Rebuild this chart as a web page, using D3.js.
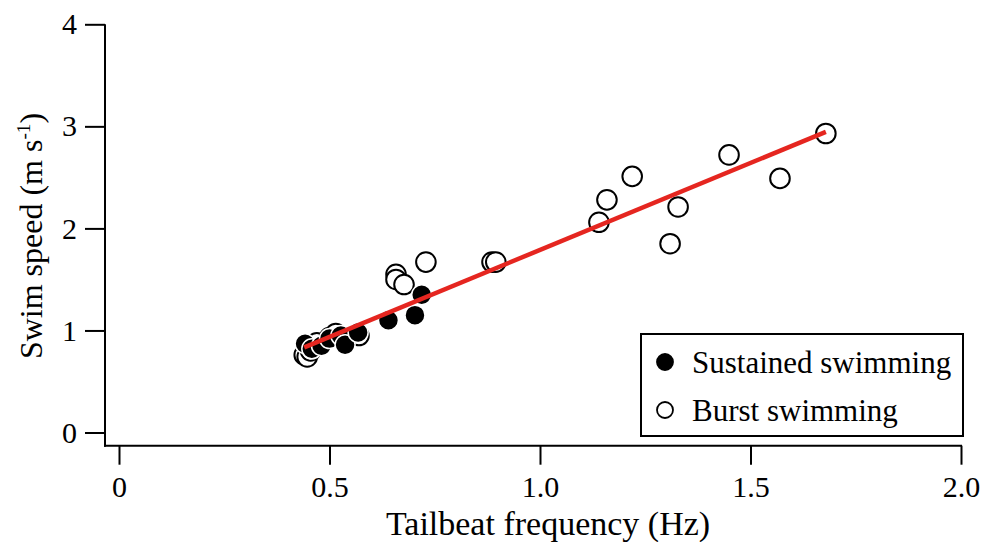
<!DOCTYPE html>
<html>
<head>
<meta charset="utf-8">
<script src="https://cdn.jsdelivr.net/npm/d3@7"></script>
<style>
  html, body { margin: 0; padding: 0; background: #fff; }
  #d3Container { width: 984px; height: 542px; }
  text { font-family: "Liberation Serif", "Times New Roman", serif; }
</style>
</head>
<body>
<div id="d3Container"></div>
<script>
// tailbeat frequency (Hz), swim speed (m s-1)
const sustainedFreq = [0.442, 0.458, 0.481, 0.500, 0.527, 0.537, 0.568, 0.640, 0.703, 0.719]
const sustainedSpeed = [0.87, 0.82, 0.85, 0.92, 0.95, 0.86, 0.98, 1.10, 1.15, 1.35]

const burstFreq = [0.440, 0.447, 0.455, 0.470, 0.500, 0.515, 0.570, 0.658, 0.658, 0.677, 0.729, 0.886, 0.895,
  1.140, 1.159, 1.219, 1.309, 1.328, 1.449, 1.570, 1.679]
const burstSpeed = [0.76, 0.74, 0.80, 0.88, 0.93, 0.97, 0.95, 1.55, 1.50, 1.45, 1.67, 1.67, 1.67,
  2.06, 2.28, 2.51, 1.85, 2.21, 2.72, 2.49, 2.93]

const fitSlope = 1.704
const fitIntercept = 0.085

const xTicks = [0, 0.5, 1.0, 1.5, 2.0]
const xTickLabels = ['0', '0.5', '1.0', '1.5', '2.0']
const yTicks = [0, 1, 2, 3, 4]
const yTickLabels = ['0', '1', '2', '3', '4']
const legendLabels = ['Sustained swimming', 'Burst swimming']

const width = 984
const height = 542
const TICK_FONT = 30
const TITLE_FONT = 34
const Y_TITLE_FONT = 32
const LEGEND_FONT = 31
const RED = '#e52620'

const xScale = d3.scaleLinear().domain([0, 2]).range([119, 961])
const yScale = d3.scaleLinear().domain([0, 4]).range([432.5, 24.3])
const axisX = 105
const axisY = 445.7

const svg = d3.select('#d3Container')
  .append('svg')
  .attr('width', width)
  .attr('height', height)

// axis lines
svg.append('line')
  .attr('x1', axisX).attr('x2', axisX).attr('y1', yScale(4)).attr('y2', axisY + 1)
  .attr('stroke', '#000').attr('stroke-width', 2)
svg.append('line')
  .attr('x1', axisX - 1).attr('x2', xScale(2) + 1).attr('y1', axisY).attr('y2', axisY)
  .attr('stroke', '#000').attr('stroke-width', 2)

const yAxis = d3.axisLeft(yScale).tickValues(yTicks).tickSize(20).tickSizeOuter(0).tickPadding(8)
  .tickFormat((d, i) => yTickLabels[i])
svg.append('g')
  .attr('transform', `translate(${axisX}, 0)`)
  .call(yAxis)
  .call(g => {
    g.select('.domain').remove()
    g.selectAll('.tick line').attr('stroke', '#000').attr('stroke-width', 2)
    g.selectAll('.tick text')
      .attr('font-size', TICK_FONT).attr('fill', '#000')
      .attr('font-family', '"Liberation Serif", serif')
  })

const xAxis = d3.axisBottom(xScale).tickValues(xTicks).tickSize(19).tickSizeOuter(0)
  .tickFormat((d, i) => xTickLabels[i])
svg.append('g')
  .attr('transform', `translate(0, ${axisY})`)
  .call(xAxis)
  .call(g => {
    g.select('.domain').remove()
    g.selectAll('.tick line').attr('stroke', '#000').attr('stroke-width', 2)
    g.selectAll('.tick text')
      .attr('y', 51).attr('dy', 0)
      .attr('font-size', TICK_FONT).attr('fill', '#000')
      .attr('font-family', '"Liberation Serif", serif')
  })

// axis titles
svg.append('text')
  .attr('x', 548).attr('y', 535)
  .attr('text-anchor', 'middle').attr('font-size', TITLE_FONT)
  .text('Tailbeat frequency (Hz)')

svg.append('text')
  .attr('transform', 'translate(42, 236) rotate(-90)')
  .attr('text-anchor', 'middle').attr('font-size', Y_TITLE_FONT)
  .call(t => {
    t.append('tspan').text('Swim speed (m s')
    t.append('tspan').attr('font-size', Y_TITLE_FONT * 0.6).attr('dy', -Y_TITLE_FONT * 0.38).text('-1')
    t.append('tspan').attr('dy', Y_TITLE_FONT * 0.38).text(')')
  })

// points: burst drawn first, sustained on top
const burst = burstFreq.map((f, i) => ({f, s: burstSpeed[i]}))
const sustained = sustainedFreq.map((f, i) => ({f, s: sustainedSpeed[i]}))

svg.selectAll('circle.burst')
  .data(burst)
  .enter()
  .append('circle')
  .classed('burst', true)
  .attr('cx', d => xScale(d.f)).attr('cy', d => yScale(d.s)).attr('r', 9.8)
  .attr('fill', '#fff').attr('stroke', '#000').attr('stroke-width', 2)

svg.selectAll('circle.sustained')
  .data(sustained)
  .enter()
  .append('circle')
  .classed('sustained', true)
  .attr('cx', d => xScale(d.f)).attr('cy', d => yScale(d.s)).attr('r', 10)
  .attr('fill', '#000').attr('stroke', '#fff').attr('stroke-width', 1.5)

// regression line over the data range
const allFreq = sustainedFreq.concat(burstFreq)
const fitRange = d3.extent(allFreq)
svg.append('path')
  .datum(fitRange.map(f => ({f, s: fitIntercept + fitSlope * f})))
  .attr('d', d3.line().x(d => xScale(d.f)).y(d => yScale(d.s)))
  .attr('stroke', RED).attr('stroke-width', 4.5).attr('fill', 'none')

// legend
const legend = svg.append('g').attr('transform', 'translate(641, 334)')
legend.append('rect')
  .attr('width', 322).attr('height', 102)
  .attr('fill', '#fff').attr('stroke', '#000').attr('stroke-width', 2)

legend.selectAll('g.legend_item')
  .data(legendLabels)
  .enter()
  .append('g')
  .classed('legend_item', true)
  .attr('transform', (d, i) => `translate(0, ${32 + i * 48})`)
  .call(sel => {
    sel.append('circle')
      .attr('cx', 24).attr('cy', -4).attr('r', 8)
      .attr('fill', (d, i) => i === 0 ? '#000' : '#fff')
      .attr('stroke', '#000').attr('stroke-width', 1.8)
    sel.append('text')
      .attr('x', 51).attr('y', 7)
      .attr('font-size', LEGEND_FONT).attr('fill', '#000')
      .text(d => d)
  })
</script>
</body>
</html>
